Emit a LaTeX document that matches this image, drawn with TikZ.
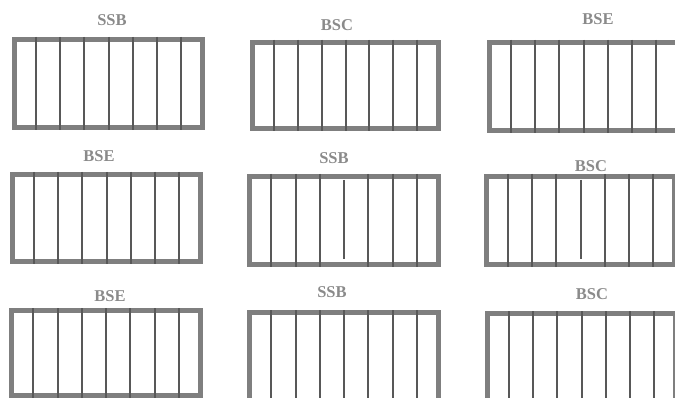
\documentclass[tikz,border=0pt]{standalone}
\usepackage{fontspec}
\setmainfont{Liberation Serif}
\usepackage{tikz}
\usetikzlibrary{
	positioning,
	calc
}
\definecolor{trayGray}{HTML}{7F7F7F}
\definecolor{barGray}{HTML}{585858}
\definecolor{tagGray}{HTML}{8A8A8A}
\newcommand{\tagfont}{\fontsize{16.5}{16.5}\selectfont\bfseries}

\begin{document}
\begin{tikzpicture}[
				x=1pt, y=-1pt,
				tray/.style={
					rectangle, draw=trayGray, line width=5pt,
					fill=white, inner sep=0pt,
					minimum width=188pt, minimum height=88pt
				},
				bar/.style={draw=barGray, line width=2pt},
				tag/.style={
					font=\tagfont, text=tagGray, inner sep=0pt
				},
				]
				
				\useasboundingbox (0,0) rectangle (675,398);
				\clip (0,0) rectangle (675,398);
				
				%top row
				\node[tray] (ssbTop) at (108.5,83.5) {};
				\node[tag] (ssbTopTag) at (112,20) {SSB};
				
				\node[tray, minimum width=186pt, minimum height=86pt] (bscTop) at (345.5,85.5) {};
				\node[tag] (bscTopTag) at (337,25) {BSC};
				
				\node[tray] (bseTop) at (583.5,86.5) {};
				\node[tag] (bseTopTag) at (598,19) {BSE};
				
				%middle row
				\node[tray, minimum height=87pt] (bseMid) at (106.5,218) {};
				\node[tag] (bseMidTag) at (99,156) {BSE};
				
				\node[tray, minimum width=189pt] (ssbMid) at (344,220.5) {};
				\node[tag] (ssbMidTag) at (334,158) {SSB};
				
				\node[tray] (bscMid) at (580.5,220.5) {};
				\node[tag] (bscMidTag) at (591,166) {BSC};
				
				%bottom row
				\node[tray, minimum width=189pt, minimum height=85pt] (bseLow) at (106,353) {};
				\node[tag] (bseLowTag) at (110,296) {BSE};
				
				\node[tray, minimum width=189pt] (ssbLow) at (344,356.5) {};
				\node[tag] (ssbLowTag) at (332,292) {SSB};
				
				\node[tray] (bscLow) at (581.5,357.5) {};
				\node[tag] (bscLowTag) at (592,294) {BSC};
				
				%bars
				\foreach \b in {ssbTop,bscTop,bseTop,bseMid,bseLow,ssbLow,bscLow}
					\foreach \k in {1,...,7}
						\draw[bar] ($(\b.north west)!\k/8!(\b.north east)$) -- ($(\b.south west)!\k/8!(\b.south east)$);
				
				\foreach \b in {ssbMid,bscMid} {
					\foreach \k in {1,2,3,5,6,7}
						\draw[bar] ($(\b.north west)!\k/8!(\b.north east)$) -- ($(\b.south west)!\k/8!(\b.south east)$);
					\draw[bar] ($(\b.north)+(0,6)$) -- ($(\b.south)+(0,-8)$);
				}
			\end{tikzpicture}
\end{document}
